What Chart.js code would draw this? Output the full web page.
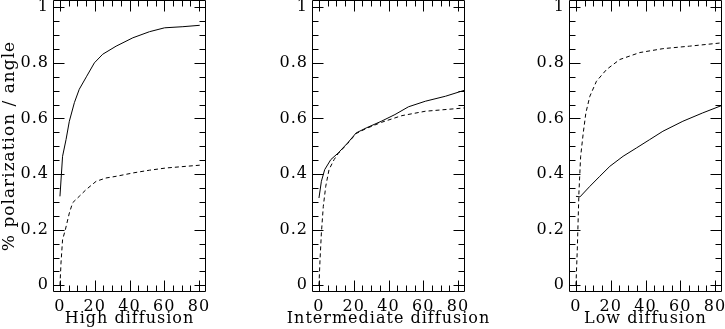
<!DOCTYPE html>
<html><head><meta charset="utf-8">
<script src="https://cdn.jsdelivr.net/npm/chart.js@4/dist/chart.umd.min.js"></script>
<style>
html,body{margin:0;padding:0;background:#fff;overflow:hidden;width:725px;height:329px;position:relative}
canvas{position:absolute;top:0}
</style></head>
<body>
<canvas id="c1" width="259" height="329" style="left:0px"></canvas>
<canvas id="c2" width="257" height="329" style="left:260px"></canvas>
<canvas id="c3" width="257" height="329" style="left:517px"></canvas>
<script>
// ---- tick labels ----
const xTickLabels = [0, 20, 40, 60, 80];
const yTickLabels = [0, 0.2, 0.4, 0.6, 0.8, 1];
const yAxisTitle = '% polarization / angle';
const panelTitles = ['High diffusion', 'Intermediate diffusion', 'Low diffusion'];

// ---- High diffusion ----
const highSolidX  = [0, 1.5, 3.5, 5.4, 8.3, 11.1, 15.4, 19.8, 24.6, 32.3, 41.9, 51.5, 60.2, 70.7, 80.4];
const highSolidY  = [0.32, 0.464, 0.524, 0.59, 0.657, 0.705, 0.752, 0.80, 0.831, 0.86, 0.89, 0.912, 0.926, 0.93, 0.935];
const highDashX   = [0, 0.6, 1.5, 3.1, 5.4, 7.3, 11.1, 15, 20.8, 26.5, 32.3, 41.9, 51.5, 61.1, 80.4];
const highDashY   = [0.0, 0.08, 0.164, 0.2, 0.26, 0.297, 0.32, 0.344, 0.374, 0.386, 0.392, 0.404, 0.414, 0.422, 0.432];

// ---- Intermediate diffusion ----
const midSolidX   = [0, 1.4, 3.3, 6.8, 11.1, 16.5, 21.4, 27.2, 35.9, 43.7, 51.5, 61.2, 72.8, 84];
const midSolidY   = [0.314, 0.374, 0.416, 0.452, 0.476, 0.512, 0.548, 0.566, 0.59, 0.614, 0.642, 0.662, 0.68, 0.702];
const midDashX    = [0, 0.6, 1.4, 2.5, 3.9, 5.8, 8.7, 11.1, 16.5, 21.4, 27.2, 35.9, 47.6, 61.2, 84];
const midDashY    = [0.0, 0.09, 0.188, 0.284, 0.356, 0.416, 0.452, 0.474, 0.51, 0.546, 0.564, 0.586, 0.61, 0.626, 0.638];

// ---- Low diffusion ----
const lowSolidX   = [0, 2.3, 8, 13.7, 19.5, 27.1, 34.8, 42.4, 50, 61.5, 72.9, 84];
const lowSolidY   = [0.32, 0.318, 0.356, 0.392, 0.428, 0.464, 0.494, 0.524, 0.554, 0.59, 0.62, 0.647];
const lowDashX    = [0, 0.8, 1.7, 2.7, 4.2, 5.7, 8, 11.8, 17.6, 25.2, 36.7, 50, 65.3, 84];
const lowDashY    = [0.0, 0.134, 0.332, 0.464, 0.548, 0.62, 0.68, 0.734, 0.776, 0.812, 0.837, 0.851, 0.86, 0.872];

const FONT = "'DejaVu Serif', 'Liberation Serif', serif";

function pts(xs, ys) { return xs.map((x, i) => ({ x: x, y: ys[i] })); }

const framePlugin = {
  id: 'frame',
  beforeDraw(chart) { chart.ctx.letterSpacing = '1px'; },
  afterDatasetsDraw(chart) {
    const ctx = chart.ctx, a = chart.chartArea, xs = chart.scales.x, ys = chart.scales.y;
    ctx.save();
    ctx.letterSpacing = '0px';
    ctx.strokeStyle = '#000';
    ctx.lineWidth = 1;
    const L = Math.round(a.left) + 0.5, R = Math.round(a.right) - 0.5;
    const T = Math.round(a.top) + 0.5, B = Math.round(a.bottom) - 0.5;
    ctx.beginPath();
    ctx.rect(L, T, R - L, B - T);
    const xStep = (xTickLabels[1] - xTickLabels[0]) / 4;
    const xN = Math.round((xTickLabels[xTickLabels.length - 1] - xTickLabels[0]) / xStep);
    for (let i = 0; i <= xN; i++) {
      const v = xTickLabels[0] + i * xStep;
      const len = i % 4 === 0 ? 11 : 6;
      const px = Math.round(xs.getPixelForValue(v)) + 0.5;
      ctx.moveTo(px, B); ctx.lineTo(px, B - len);
      ctx.moveTo(px, T); ctx.lineTo(px, T + len);
    }
    const yStep = (yTickLabels[1] - yTickLabels[0]) / 4;
    const yN = Math.round((yTickLabels[yTickLabels.length - 1] - yTickLabels[0]) / yStep);
    for (let i = 0; i <= yN; i++) {
      const v = yTickLabels[0] + i * yStep;
      const len = i % 4 === 0 ? 11 : 6;
      const py = Math.round(ys.getPixelForValue(v)) + 0.5;
      ctx.moveTo(L, py); ctx.lineTo(L + len, py);
      ctx.moveTo(R, py); ctx.lineTo(R - len, py);
    }
    ctx.stroke();
    ctx.restore();
  }
};

function noPad(s) { s.paddingTop = 0; s.paddingBottom = 0; s.paddingLeft = 0; s.paddingRight = 0; }

function makeChart(id, solidX, solidY, dashX, dashY, title, leftW, rightW, showYTitle) {
  return new Chart(document.getElementById(id), {
    type: 'line',
    data: {
      datasets: [
        { data: pts(solidX, solidY), borderColor: '#000', borderWidth: 1, pointRadius: 0, tension: 0, fill: false },
        { data: pts(dashX, dashY), borderColor: '#000', borderWidth: 1, borderDash: [4, 3], pointRadius: 0, tension: 0, fill: false }
      ]
    },
    options: {
      responsive: false,
      animation: false,
      devicePixelRatio: 1,
      layout: { padding: 0, autoPadding: false },
      plugins: {
        legend: { display: false },
        tooltip: { enabled: false },
        title: {
          display: true, text: title, position: 'bottom', color: '#000',
          font: { family: FONT, size: 16, weight: 'normal', lineHeight: '9px' },
          padding: { top: 0, bottom: 6 }
        }
      },
      scales: {
        x: {
          type: 'linear', position: 'bottom', min: -4, max: 84,
          grid: { display: false, drawTicks: false },
          border: { display: false },
          afterBuildTicks(s) { s.ticks = xTickLabels.map(v => ({ value: v })); },
          afterFit(s) { s.height = 22; noPad(s); },
          ticks: {
            color: '#000', padding: 7, maxRotation: 0, autoSkip: false,
            font: { family: FONT, size: 16, lineHeight: 1 },
            callback: v => String(v)
          }
        },
        y: {
          type: 'linear', position: 'left', min: -0.024, max: 1.026,
          grid: { display: false, drawTicks: false },
          border: { display: false },
          afterBuildTicks(s) { s.ticks = yTickLabels.map(v => ({ value: v })); },
          afterFit(s) { s.width = leftW; noPad(s); },
          ticks: {
            color: '#000', padding: 4, autoSkip: false,
            font: { family: FONT, size: 16, lineHeight: 1 },
            callback: v => String(Math.round(v * 10) / 10)
          },
          title: {
            display: showYTitle, text: yAxisTitle, color: '#000',
            font: { family: FONT, size: 17, lineHeight: 1 },
            padding: { top: 1, bottom: 0 }
          }
        },
        yr: {
          type: 'linear', position: 'right', min: 0, max: 1, display: true,
          grid: { display: false, drawTicks: false },
          border: { display: false },
          ticks: { display: false },
          afterFit(s) { s.width = rightW; noPad(s); }
        }
      }
    },
    plugins: [framePlugin]
  });
}

makeChart('c1', highSolidX, highSolidY, highDashX, highDashY, panelTitles[0], 53, 53, true);
makeChart('c2', midSolidX, midSolidY, midDashX, midDashY, panelTitles[1], 52, 52, false);
makeChart('c3', lowSolidX, lowSolidY, lowDashX, lowDashY, panelTitles[2], 52, 52, false);
</script>
</body></html>
